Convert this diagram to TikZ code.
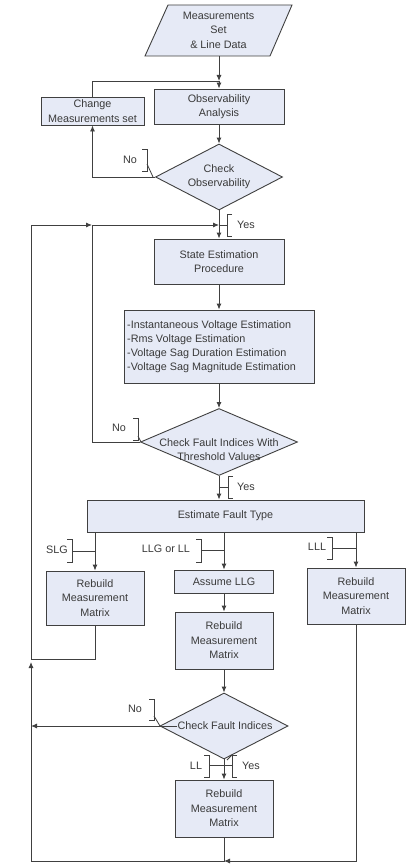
\documentclass[tikz,border=0pt]{standalone}
\usepackage{fontspec}
\setmainfont{Liberation Sans}
\usetikzlibrary{shapes.geometric,arrows.meta}
\definecolor{fillc}{HTML}{E6EAF6}
\definecolor{linec}{HTML}{404040}
\definecolor{textc}{HTML}{3A3A3A}
\newcommand\myfs{\fontsize{10.8}{14.4}\selectfont}
\newcommand\rbrk[3]{\draw[cal] ({#1-5},#2) -- (#1,#2) -- (#1,#3) -- ({#1-5},#3);}
\newcommand\lbrk[3]{\draw[cal] ({#1+5},#2) -- (#1,#2) -- (#1,#3) -- ({#1+5},#3);}
\begin{document}
\begin{tikzpicture}[x=1pt,y=-1pt,
  box/.style={draw=linec, fill=fillc, line width=0.9pt, inner sep=0pt, align=center, text=textc, font=\myfs},
  dia/.style={diamond, draw=linec, fill=fillc, line width=0.9pt, inner sep=0pt},
  txt/.style={inner sep=0pt, align=center, text=textc, font=\myfs},
  lbl/.style={inner sep=0pt, text=textc, font=\myfs},
  con/.style={draw=linec, line width=0.9pt},
  arr/.style={con, -{Latex[length=6pt,width=5pt]}},
  cal/.style={draw=linec, line width=0.8pt}]
\useasboundingbox[fill=white] (0,0) rectangle (411,864);

% input parallelogram
\coordinate (p1) at (168,5);
\coordinate (p2) at (292,5);
\coordinate (p3) at (270,56);
\coordinate (p4) at (145,56);
\draw[con, fill=fillc] (p1) -- (p2) -- (p3) -- (p4) -- cycle;
\node[txt] (ms) at (218.5,30) {Measurements\\Set\\\& Line Data};
\coordinate (msb) at (219,56);

% nodes
\node[box, minimum width=130, minimum height=35] (obs) at (219,106.5) {Observability\\Analysis};
\node[box, minimum width=103, minimum height=28] (chg) at (92.5,111) {Change\\Measurements set};
\node[dia, minimum width=127, minimum height=66] (d1) at (219,177) {};
\node[txt] (d1t) at (219,177) {Check\\Observability};
\node[box, minimum width=130, minimum height=45] (se) at (219,261.5) {State Estimation\\Procedure};
\node[box, minimum width=190, minimum height=73] (lst) at (219,346.5) {};
\node[txt, align=left, anchor=west, font=\fontsize{10.8}{14}\selectfont] (lstt) at (127,346.5) {-Instantaneous Voltage Estimation\\-Rms Voltage Estimation\\-Voltage Sag Duration Estimation\\-Voltage Sag Magnitude Estimation};
\node[dia, minimum width=157, minimum height=67] (d2) at (219,442) {};
\node[txt, font=\fontsize{10.8}{14}\selectfont] (d2t) at (219,450) {Check Fault Indices With\\Threshold Values};
\node[box, minimum width=277, minimum height=32] (eft) at (225.5,516) {Estimate Fault Type};
\node[box, minimum width=98, minimum height=54] (rb1) at (95,598) {Rebuild\\Measurement\\Matrix};
\node[box, minimum width=99, minimum height=23] (all) at (224,581.5) {Assume LLG};
\node[box, minimum width=98, minimum height=56] (rb3) at (356,596) {Rebuild\\Measurement\\Matrix};
\node[box, minimum width=98, minimum height=57] (rb2) at (224,640.5) {Rebuild\\Measurement\\Matrix};
\node[dia, minimum width=128, minimum height=66] (d3) at (224,726) {};
\node[box, minimum width=98, minimum height=57] (rb4) at (224,808.5) {Rebuild\\Measurement\\Matrix};

% junction coordinates
\coordinate (j1) at (219,81);
\coordinate (j2) at (219,225);
\coordinate (j3) at (92,225);
\coordinate (bl) at (31,659);
\coordinate (bb) at (224,861);

% connectors
\draw[arr] (msb) -- (j1);
\draw[con] (chg.north) |- (j1);
\draw[arr] (j1) -- (obs.north);
\draw[arr] (obs) -- (d1.north);
\draw[arr] (d1.west) -| (chg.south);
\draw[arr] (d1.south) -- (se.north);
\draw[arr] (d2.west) -| (j3) -- (j2);
\draw[arr] (se) -- (lst.north);
\draw[arr] (lst) -- (d2.north);
\draw[arr] (d2.south) -- (d2.south |- eft.north);
\draw[arr] (rb1.north |- eft.south) -- (rb1.north);
\draw[arr] (all.north |- eft.south) -- (all.north);
\draw[arr] (rb3.north |- eft.south) -- (rb3.north);
\draw[arr] (all) -- (rb2.north);
\draw[arr] (rb2) -- (d3.north);
\draw[arr] (d3.south) -- (rb4.north);
\draw[con] (rb1.south) |- (bl);
\draw[arr] (bl) |- (j3);
\draw[arr] (rb3.south) |- (bb);
\draw[arr] (rb4.south) -- (bb) -| ([yshift=-3]bl);

% diamond text (connector starts at its left)
\node[txt] (d3t) at (225,726) {Check Fault Indices};
\draw[arr] (d3t.west) -- (d3t.west -| bl);

% callout brackets and labels
\rbrk{147}{149}{171} \draw[cal] (147,164) -- (153,177);
\node[lbl] (no1) at (130,160) {No};
\lbrk{227}{214}{236} \draw[cal] (219,225) -- (227,225);
\node[lbl] (yes1) at (246,225) {Yes};
\rbrk{138}{418}{440} \draw[cal] (138,436) -- (141,442);
\node[lbl] (no2) at (119,428) {No};
\lbrk{228}{476}{498} \draw[cal] (219,487) -- (228,487);
\node[lbl] (yes2) at (246,487) {Yes};
\rbrk{72}{539}{562} \draw[cal] (72,551) -- (96,551);
\node[lbl] (slg) at (57,550) {SLG};
\rbrk{201}{539}{562} \draw[cal] (201,550) -- (224,550);
\node[lbl] (llg) at (166,549) {LLG or LL};
\rbrk{332}{537}{559} \draw[cal] (332,548) -- (356,548);
\node[lbl] (lll) at (317,547) {LLL};
\rbrk{154}{699}{720} \draw[cal] (154,716) -- (160,726);
\node[lbl] (no3) at (135,709) {No};
\rbrk{209}{755}{777} \lbrk{232}{755}{777} \draw[cal] (209,765) -- (232,765);
\draw[cal] (232,755) -- (227,760);
\node[lbl] (ll) at (196,766) {LL};
\node[lbl] (yes3) at (251,766) {Yes};
\end{tikzpicture}
\end{document}
